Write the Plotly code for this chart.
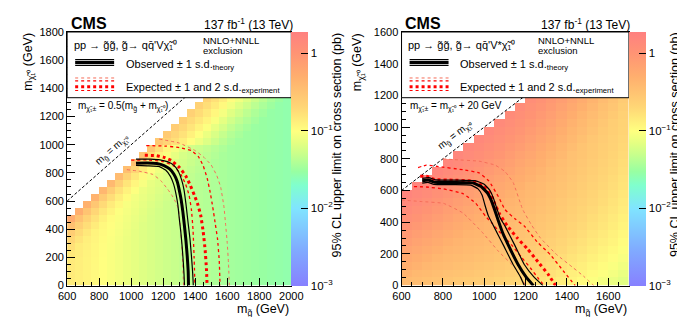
import math
import plotly.graph_objects as go

W, H = 685, 317

# ------------------------------------------------------------------ data
# Left panel: m(chargino) = 0.5 (m_gluino + m_LSP); 50 GeV bins
MG_LEFT = list(range(625, 2000, 50))      # gluino-mass bin centres (28)
MLSP_LEFT = list(range(25, 1350, 50))     # LSP-mass bin centres (27)
# 95% CL upper limit [fb], one list per LSP row, right-aligned to 2000 GeV
LIMIT_LEFT_FB = [
    [140,130,120,110,100,92,85,78,72,66,61,57,53,50,47,44,42,40,38,36,34,33,32,31,30,29,28,27],
    [141,130,120,110,100,92,85,78,72,66,61,57,53,50,47,44,42,40,38,36,34,33,32,31,30,29,28,27],
    [143,131,120,110,100,92,85,78,72,66,61,57,53,50,47,44,42,40,38,36,34,33,32,31,30,29,28,27],
    [145,133,121,111,100,92,85,78,72,66,61,57,53,50,47,44,42,40,38,36,34,33,32,31,30,29,28,27],
    [148,136,124,112,101,92,85,78,72,66,61,57,53,50,47,44,42,40,38,36,34,33,32,31,30,29,28,27],
    [170,140,127,115,103,93,85,78,72,66,61,57,53,50,47,44,42,40,38,36,34,33,32,31,30,29,28,27],
    [200,160,131,118,106,95,87,78,72,66,61,57,53,50,47,44,42,40,38,36,34,33,32,31,30,29,28,27],
    [250,187,149,122,109,98,89,80,72,66,61,57,53,50,47,44,42,40,38,36,34,33,32,31,30,29,28,27],
    [342,233,176,139,112,101,91,82,74,66,61,57,53,50,47,44,42,40,38,36,34,33,32,31,30,29,28,27],
    [536,325,220,164,128,105,94,84,76,68,61,57,53,50,47,44,42,40,38,36,34,33,32,31,30,29,28,27],
    [510,306,206,152,120,98,88,79,70,63,57,53,50,47,44,42,40,38,36,34,33,32,31,30,29,28,27],
    [482,287,190,142,112,91,82,73,65,59,53,50,47,44,42,40,38,36,34,33,32,31,30,29,28,27],
    [452,266,179,134,105,85,76,68,61,55,50,47,44,42,40,38,36,34,33,32,31,30,29,28,27],
    [420,250,168,125,98,79,71,64,57,52,47,44,42,40,38,36,34,33,32,31,30,29,28,27],
    [395,236,157,117,91,74,67,60,54,49,44,42,40,38,36,34,33,32,31,30,29,28,27],
    [373,221,148,109,86,70,63,57,51,46,42,40,38,36,34,33,32,31,30,29,28,27],
    [349,208,138,102,81,66,60,54,48,44,40,38,36,34,33,32,31,30,29,28,27],
    [329,194,130,97,77,63,57,51,46,42,38,36,34,33,32,31,30,29,28,27],
    [308,183,123,92,73,60,54,49,44,40,36,34,33,32,31,30,29,28,27],
    [290,174,117,88,70,57,52,47,42,38,34,33,32,31,30,29,28,27],
    [276,214,172,135,102,80,64,52,43,37,33,32,31,30,29,28,27],
    [262,206,164,128,99,77,61,49,41,36,32,31,30,29,28,27],
    [252,197,156,124,96,74,59,47,40,35,31,30,29,28,27],
    [241,187,151,120,92,71,56,46,39,34,30,29,28,27],
    [229,182,146,115,88,67,55,45,38,33,29,28,27],
    [223,176,141,111,84,66,54,44,37,32,28,27],
    [216,170,136,106,83,65,52,43,36,31,27],
]

# Right panel: m(chargino) = m_LSP + 20 GeV
MG_RIGHT = list(range(625, 1700, 50))     # 22
MLSP_RIGHT = list(range(25, 1200, 50))    # 24
LIMIT_RIGHT_FB = [
    [380,360,340,320,300,285,270,255,240,225,210,195,180,165,150,135,120,108,96,86,77,68],
    [443,400,378,356,333,317,300,283,267,250,233,217,200,183,167,150,133,120,107,96,86,76],
    [511,462,415,391,367,348,330,312,293,275,257,238,220,202,183,165,147,132,117,105,94,83],
    [583,528,476,427,400,380,360,340,320,300,280,260,240,220,200,180,160,144,128,115,103,91],
    [669,598,540,485,433,412,390,368,347,325,303,282,260,238,217,195,173,156,139,124,111,98],
    [769,683,608,548,490,443,420,397,373,350,327,303,280,257,233,210,187,168,149,134,120,106],
    [887,780,691,613,550,499,450,425,400,375,350,325,300,275,250,225,200,180,160,143,128,113],
    [1013,896,786,694,613,557,504,453,427,400,373,347,320,293,267,240,213,192,171,153,137,121],
    [1148,1020,899,786,691,619,561,506,453,425,397,368,340,312,283,255,227,204,181,162,145,128],
    [1292,1152,1020,896,780,695,621,561,504,450,420,390,360,330,300,270,240,216,192,172,154,136],
    [1444,1292,1148,1013,887,782,695,619,557,499,443,412,380,348,317,285,253,228,203,182,163,144],
    [1604,1440,1284,1138,1000,887,780,691,613,550,490,433,400,367,333,300,267,240,213,191,171,151],
    [1596,1428,1269,1120,998,882,773,683,604,539,478,420,385,350,315,280,252,224,201,180,159],
    [1579,1408,1247,1115,990,873,763,671,590,524,462,403,367,330,293,264,235,210,188,166],
    [1554,1380,1238,1104,977,859,747,655,573,506,443,383,345,307,276,245,220,197,174],
    [1520,1368,1224,1088,960,840,728,634,552,484,420,360,320,288,256,229,205,181],
    [1504,1350,1204,1067,938,817,704,610,527,458,394,333,300,267,239,214,189],
    [1482,1326,1179,1040,910,789,676,581,498,429,364,312,277,248,222,196],
    [1454,1296,1148,1008,878,756,644,549,466,396,340,288,258,231,204],
    [1419,1260,1111,971,840,719,607,512,429,370,314,268,240,212],
    [1377,1218,1068,928,797,677,566,472,400,340,291,248,219],
    [1330,1170,1020,880,750,630,520,439,368,315,270,227],
    [1276,1116,966,827,698,579,484,403,341,292,246],
    [1216,1056,907,768,640,538,444,373,315,266],
]

# Exclusion contours, left panel (m_gluino, m_LSP) in GeV
OBS_L_MG = [1030, 1100, 1160, 1205, 1240, 1267, 1287, 1300, 1312, 1322, 1332, 1342, 1350, 1356, 1358]
OBS_L_MLSP = [869, 870, 866, 852, 828, 790, 740, 680, 610, 530, 430, 320, 210, 100, 0]
OBS_L_UP_MG = [1030, 1120, 1180, 1230, 1267, 1295, 1315, 1330, 1342, 1355, 1367, 1377, 1384, 1388]
OBS_L_UP_MLSP = [898, 898, 893, 878, 853, 810, 750, 680, 580, 450, 334, 200, 90, 0]
OBS_L_DN_MG = [1030, 1100, 1176, 1215, 1245, 1265, 1280, 1292, 1300, 1310, 1318, 1325, 1330, 1333]
OBS_L_DN_MLSP = [853, 850, 845, 820, 775, 720, 650, 570, 480, 380, 280, 175, 80, 0]
EXP_L_MG = [1085, 1150, 1200, 1250, 1300, 1340, 1370, 1395, 1415, 1434, 1450, 1462, 1470, 1474]
EXP_L_MLSP = [925, 923, 912, 888, 840, 780, 710, 640, 580, 500, 380, 250, 120, 0]
EXP_L_UP_MG = [1094, 1216, 1300, 1377, 1420, 1450, 1475, 1492, 1509, 1525, 1539, 1550, 1555]
EXP_L_UP_MLSP = [994, 990, 980, 958, 915, 850, 760, 670, 560, 440, 334, 175, 0]
EXP_L_DN_MG = [1000, 1100, 1200, 1265, 1310, 1340, 1362, 1376, 1386, 1393, 1398]
EXP_L_DN_MLSP = [890, 892, 880, 850, 790, 720, 640, 540, 400, 200, 0]
EXP_L_UP2_MG = [1175, 1300, 1397, 1450, 1499, 1535, 1559, 1579, 1590, 1600, 1608, 1613]
EXP_L_UP2_MLSP = [1040, 1012, 960, 915, 857, 780, 698, 562, 430, 300, 150, 0]
EXP_L_DN2_MG = [973, 1050, 1135, 1185, 1226, 1255, 1276, 1290, 1297, 1307, 1315, 1322, 1327]
EXP_L_DN2_MLSP = [823, 812, 789, 745, 687, 640, 596, 560, 528, 420, 300, 150, 0]

# Exclusion contours, right panel
OBS_R_MG = [700, 730, 760, 850, 944, 985, 1015, 1035, 1050, 1068, 1090, 1116, 1163, 1202, 1238]
OBS_R_MLSP = [662, 666, 652, 651, 648, 625, 585, 535, 480, 410, 330, 257, 135, 55, 0]
OBS_R_UP_MG = [700, 732, 765, 860, 955, 1000, 1028, 1045, 1060, 1078, 1100, 1147, 1193, 1240, 1284]
OBS_R_UP_MLSP = [677, 681, 667, 666, 662, 640, 600, 550, 490, 425, 377, 257, 135, 55, 0]
OBS_R_DN_MG = [700, 728, 757, 850, 935, 970, 990, 1003, 1020, 1045, 1092, 1139, 1175, 1194]
OBS_R_DN_MLSP = [647, 651, 638, 637, 634, 610, 570, 510, 440, 377, 257, 135, 55, 0]
EXP_R_MG = [690, 720, 760, 850, 940, 995, 1030, 1050, 1075, 1110, 1160, 1210, 1260, 1310, 1345]
EXP_R_MLSP = [690, 690, 670, 665, 660, 630, 580, 520, 450, 380, 300, 230, 150, 70, 0]
EXP_R_UP_MG = [680, 720, 772, 897, 975, 1022, 1069, 1100, 1150, 1193, 1256, 1319, 1381, 1440]
EXP_R_UP_MLSP = [745, 760, 752, 731, 711, 661, 560, 480, 420, 377, 276, 196, 95, 0]
EXP_R_DN_MG = [660, 720, 803, 897, 959, 1006, 1040, 1080, 1130, 1180, 1230, 1265, 1290]
EXP_R_DN_MLSP = [625, 622, 610, 580, 519, 438, 390, 330, 260, 180, 100, 40, 0]
EXP_R_UP2_MG = [800, 850, 975, 1053, 1100, 1140, 1186, 1230, 1272, 1350, 1428, 1480, 1530]
EXP_R_UP2_MLSP = [800, 795, 785, 760, 720, 650, 480, 380, 300, 196, 115, 60, 0]
EXP_R_DN2_MG = [600, 700, 803, 897, 990, 1069, 1147, 1201]
EXP_R_DN2_MLSP = [540, 530, 519, 458, 337, 216, 115, 0]

X_TICKS_LEFT = [600, 800, 1000, 1200, 1400, 1600, 1800, 2000]
Y_TICKS_LEFT = [0, 200, 400, 600, 800, 1000, 1200, 1400, 1600, 1800]
X_TICKS_RIGHT = [600, 800, 1000, 1200, 1400, 1600]
Y_TICKS_RIGHT = [0, 200, 400, 600, 800, 1000, 1200, 1400, 1600]
CB_MAJOR = [0.001, 0.01, 0.1, 1]
CB_MAJOR_TEXT = ["10<sup>\u22123</sup>", "10<sup>\u22122</sup>", "10<sup>\u22121</sup>", "1"]

# ------------------------------------------------------------------ style
FONT = "Liberation Sans, Arial, Helvetica, sans-serif"
ZMIN, ZMAX = -3.0, 0.28
PAL = [(0.001, (135, 128, 255)), (0.003, (128, 172, 255)), (0.01, (128, 228, 255)),
       (0.02, (128, 255, 205)), (0.03, (152, 255, 162)), (0.05, (200, 255, 140)),
       (0.07, (228, 255, 130)), (0.1, (255, 255, 128)), (0.2, (255, 215, 118)),
       (0.5, (255, 175, 110)), (1.0, (255, 148, 116)), (10 ** ZMAX, (255, 128, 128))]
COLORSCALE = [[(math.log10(v) - ZMIN) / (ZMAX - ZMIN), "rgb(%d,%d,%d)" % c] for v, c in PAL]
COLORSCALE[-1][0] = 1.0


def fx(px):
    return px / W


def fy(py):
    return 1 - py / H


PLOT_TOP, PLOT_BOT = 18.7, 282.3
L_X0, L_X1 = 51.7, 283.0
R_X0, R_X1 = 396.7, 631.3
CB_W = 17.0
LEG_BOT = 87.0
TICK_FONT = dict(family=FONT, size=11, color="black")


def zgrid(rows, ncols):
    z = []
    for row in rows:
        z.append([None] * (ncols - len(row)) + [math.log10(v / 1000.0) for v in row])
    return z


def colorbar(x_px):
    return dict(x=fx(x_px), xanchor="left", xpad=0, y=fy(PLOT_BOT), yanchor="bottom",
                ypad=0, len=(PLOT_BOT - PLOT_TOP) / H, lenmode="fraction",
                thickness=CB_W, thicknessmode="pixels", outlinewidth=0,
                ticks="inside", ticklen=7, tickwidth=1, tickcolor="black",
                tickmode="array", tickvals=[math.log10(v) for v in CB_MAJOR], ticktext=CB_MAJOR_TEXT,
                tickfont=dict(family=FONT, size=11.5, color="black"))


fig = go.Figure()

fig.add_trace(go.Heatmap(x=MG_LEFT, y=MLSP_LEFT, z=zgrid(LIMIT_LEFT_FB, len(MG_LEFT)),
                         colorscale=COLORSCALE, zmin=ZMIN, zmax=ZMAX, hoverinfo="skip",
                         colorbar=colorbar(L_X1), xaxis="x", yaxis="y"))
fig.add_trace(go.Heatmap(x=MG_RIGHT, y=MLSP_RIGHT, z=zgrid(LIMIT_RIGHT_FB, len(MG_RIGHT)),
                         colorscale=COLORSCALE, zmin=ZMIN, zmax=ZMAX, hoverinfo="skip",
                         colorbar=colorbar(R_X1), xaxis="x2", yaxis="y2"))

RED = "rgb(255,0,0)"
FAINT = "rgb(245,110,90)"
STY = {
    "obs": dict(color="black", width=3, dash="solid"),
    "obs1": dict(color="black", width=1.2, dash="solid"),
    "exp": dict(color=RED, width=3, dash="dot"),
    "exp1": dict(color=RED, width=1.3, dash="dot"),
    "exp2": dict(color=FAINT, width=1, dash="dot"),
}


def line(xs, ys, key, xa, ya):
    fig.add_trace(go.Scatter(x=xs, y=ys, mode="lines",
                             line=dict(shape="spline", smoothing=0.35, **STY[key]),
                             hoverinfo="skip", xaxis=xa, yaxis=ya))


for xa, ya, diag_end in (("x", "y", 2000), ("x2", "y2", 1700)):
    fig.add_trace(go.Scatter(x=[600, diag_end], y=[600, diag_end], mode="lines",
                             line=dict(color="black", width=1, dash="3px,2px"),
                             hoverinfo="skip", xaxis=xa, yaxis=ya))

line(EXP_L_DN2_MG, EXP_L_DN2_MLSP, "exp2", "x", "y")
line(EXP_L_UP2_MG, EXP_L_UP2_MLSP, "exp2", "x", "y")
line(EXP_L_DN_MG, EXP_L_DN_MLSP, "exp1", "x", "y")
line(EXP_L_UP_MG, EXP_L_UP_MLSP, "exp1", "x", "y")
line(EXP_L_MG, EXP_L_MLSP, "exp", "x", "y")
line(OBS_L_DN_MG, OBS_L_DN_MLSP, "obs1", "x", "y")
line(OBS_L_UP_MG, OBS_L_UP_MLSP, "obs1", "x", "y")
line(OBS_L_MG, OBS_L_MLSP, "obs", "x", "y")

line(EXP_R_DN2_MG, EXP_R_DN2_MLSP, "exp2", "x2", "y2")
line(EXP_R_UP2_MG, EXP_R_UP2_MLSP, "exp2", "x2", "y2")
line(EXP_R_DN_MG, EXP_R_DN_MLSP, "exp1", "x2", "y2")
line(EXP_R_UP_MG, EXP_R_UP_MLSP, "exp1", "x2", "y2")
line(EXP_R_MG, EXP_R_MLSP, "exp", "x2", "y2")
line(OBS_R_DN_MG, OBS_R_DN_MLSP, "obs1", "x2", "y2")
line(OBS_R_UP_MG, OBS_R_UP_MLSP, "obs1", "x2", "y2")
line(OBS_R_MG, OBS_R_MLSP, "obs", "x2", "y2")


def axis(domain, rng, ticks, anchor):
    return dict(domain=domain, range=rng, anchor=anchor, tickmode="array", tickvals=ticks,
                ticks="inside", ticklen=8, tickwidth=1, tickcolor="black",
                minor=dict(ticks="inside", ticklen=4, dtick=50, tick0=0, tickcolor="black", showgrid=False),
                showline=True, linecolor="black", linewidth=1, mirror=True,
                showgrid=False, zeroline=False, tickfont=TICK_FONT)


fig.update_layout(
    width=W, height=H, margin=dict(l=0, r=0, t=0, b=0),
    paper_bgcolor="white", plot_bgcolor="white", showlegend=False,
    xaxis=axis([fx(L_X0), fx(L_X1)], [600, 2000], X_TICKS_LEFT, "y"),
    yaxis=axis([fy(PLOT_BOT), fy(PLOT_TOP)], [0, 1800], Y_TICKS_LEFT, "x"),
    xaxis2=axis([fx(R_X0), fx(R_X1)], [600, 1700], X_TICKS_RIGHT, "y2"),
    yaxis2=axis([fy(PLOT_BOT), fy(PLOT_TOP)], [0, 1600], Y_TICKS_RIGHT, "x2"),
)

shapes, ann = [], []


def text(x, y, s, size=11, xanchor="left", yanchor="middle", angle=0, bold=False):
    ann.append(dict(x=fx(x), y=fy(y), xref="paper", yref="paper", text=("<b>%s</b>" % s) if bold else s,
                    showarrow=False, xanchor=xanchor, yanchor=yanchor, textangle=angle,
                    font=dict(family=FONT, size=size, color="black")))


def seg(x0, x1, y0, color, width, dash="solid", y1=None):
    shapes.append(dict(type="line", xref="paper", yref="paper", x0=fx(x0), x1=fx(x1),
                       y0=fy(y0), y1=fy(y0 if y1 is None else y1),
                       line=dict(color=color, width=width, dash=dash)))


for (x0, x1, ytitle, proc, chlabel, chx, diagx, diagy, diagang) in (
        (L_X0, L_X1, 12, "pp \u2192 g\u0303g\u0303, g\u0303\u2192 qq\u0304'V\u03c7\u0303\u2081\u2070",
         "m<sub>\u03c7\u0303\u2081\u00b1</sub> = 0.5(m<sub>g\u0303</sub> + m<sub>\u03c7\u0303\u2081\u2070</sub>)",
         61, 99, 141, -41.6),
        (R_X0, R_X1, 352, "pp \u2192 g\u0303g\u0303, g\u0303\u2192 qq\u0304'V*\u03c7\u0303\u2081\u2070",
         "m<sub>\u03c7\u0303\u2081\u00b1</sub> = m<sub>\u03c7\u0303\u2081\u2070</sub> + 20 GeV",
         403, 452, 126, -37.7)):
    # legend box
    shapes.append(dict(type="rect", xref="paper", yref="paper", x0=fx(x0), x1=fx(x1),
                       y0=fy(LEG_BOT), y1=fy(PLOT_TOP), fillcolor="white",
                       line=dict(color="black", width=1), layer="above"))
    seg(x0 + 8.3, x0 + 48.5, 47.5, "black", 1.2)
    seg(x0 + 8.3, x0 + 48.5, 50.5, "black", 3)
    seg(x0 + 8.3, x0 + 48.5, 53.5, "black", 1.2)
    seg(x0 + 8.3, x0 + 48.5, 66.5, FAINT, 1, "dot")
    seg(x0 + 8.3, x0 + 48.5, 69.5, RED, 1.2, "dot")
    seg(x0 + 8.3, x0 + 48.5, 75.5, RED, 3, "dot")
    seg(x0 + 8.3, x0 + 48.5, 79.5, RED, 1.2, "dot")
    text(x0 + 5, 32, proc, 11)
    text(x0 + 138.3, 27.5, "NNLO+NNLL", 9.5)
    text(x0 + 138.3, 38, "exclusion", 9.5)
    text(x0 + 58.3, 53.5, "Observed \u00b1 1 s.d.<sub>theory</sub>", 11)
    text(x0 + 58.3, 76.5, "Expected \u00b1 1 and 2 s.d.<sub>experiment</sub>", 11)
    # headers
    text(x0 + 1.5, 9.5, "CMS", 16, bold=True)
    text(x1 + 3.5, 10.5, "137 fb<sup>-1</sup> (13 TeV)", 12, xanchor="right")
    # axis titles
    text(ytitle, PLOT_TOP - 1, "m<sub>\u03c7\u0303\u2081\u2070</sub> (GeV)", 12.5,
         xanchor="center", yanchor="top", angle=-90)
    text(x1, 307.5, "m<sub>g\u0303</sub> (GeV)", 12.5, xanchor="right")
    text(x1 + 47, PLOT_TOP - 2, "95% CL upper limit on cross section (pb)", 12.5,
         xanchor="center", yanchor="top", angle=-90)
    # in-plot labels
    text(chx, 96, chlabel, 10)
    text(diagx, diagy, "m<sub>g\u0303</sub> = m<sub>\u03c7\u0303\u2081\u2070</sub>", 10,
         xanchor="center", yanchor="middle", angle=diagang)
    # minor ticks of the colour-bar log axis (drawn on its right edge)
    cb_r = x1 + CB_W
    for dec in CB_MAJOR:
        for m in range(2, 10):
            lv = math.log10(dec * m)
            if lv < ZMAX:
                py = PLOT_BOT - (lv - ZMIN) / (ZMAX - ZMIN) * (PLOT_BOT - PLOT_TOP)
                seg(cb_r - 3.5, cb_r, py, "black", 1)

fig.update_layout(shapes=shapes, annotations=ann)
fig.write_html("out.html")
